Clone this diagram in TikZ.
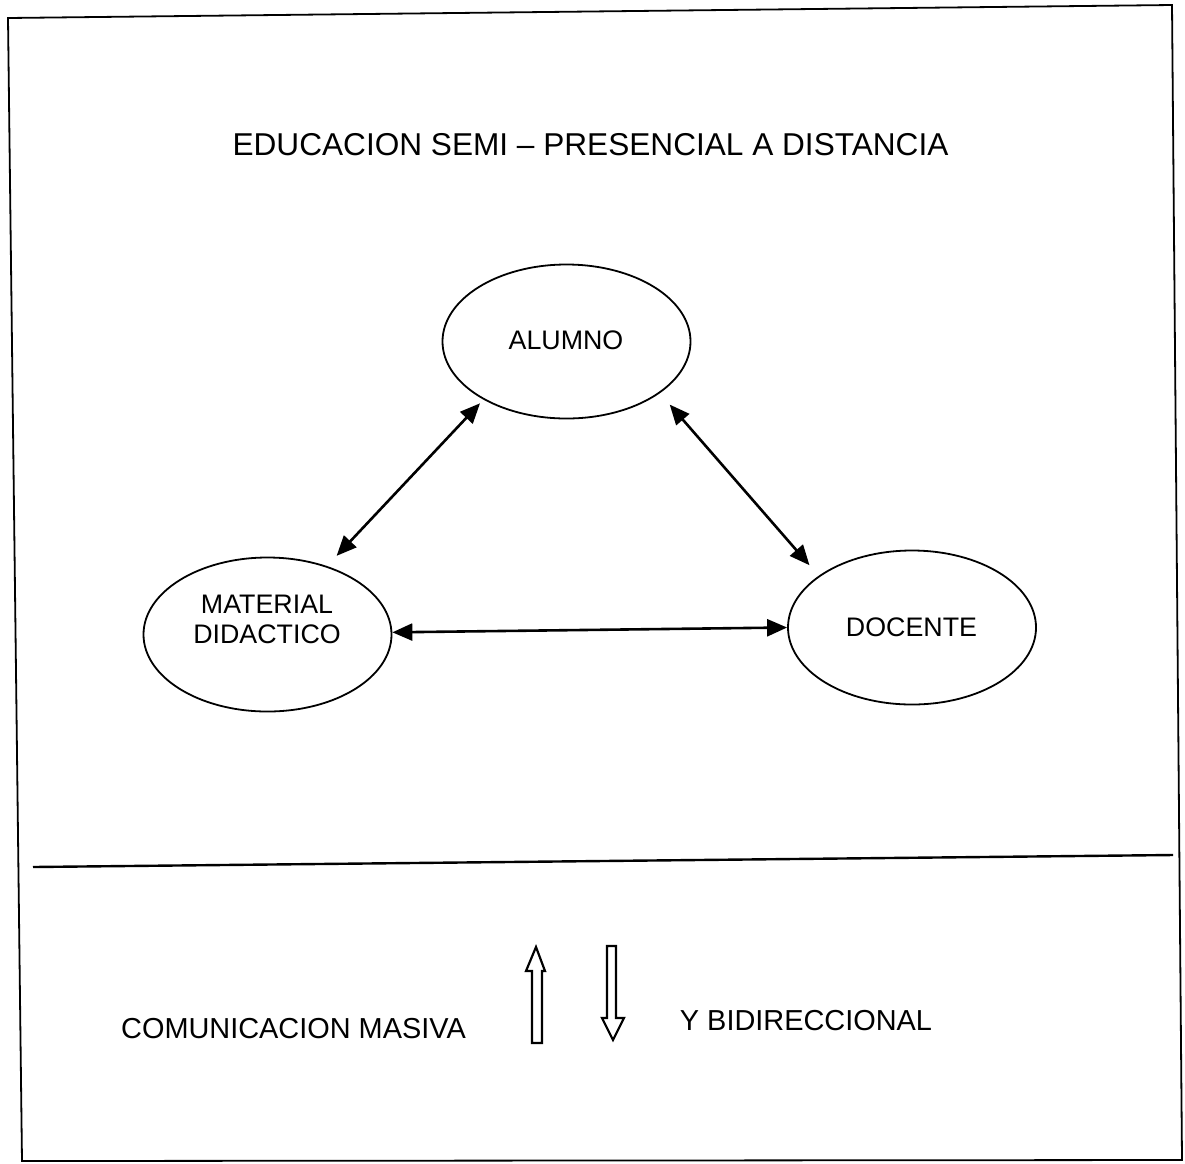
\documentclass[tikz,border=0pt]{standalone}
\usepackage{fontspec}
\setmainfont{Liberation Sans}
\usetikzlibrary{shapes.geometric,arrows.meta}
\begin{document}
\begin{tikzpicture}[x=1pt,y=-1pt,
  frame/.style={draw=black,line width=1.8pt,line join=miter},
  rule/.style={draw=black,line width=2.4pt},
  ell/.style={ellipse,draw=black,line width=1.8pt,minimum width=248pt,minimum height=154pt,inner sep=0pt},
  lbl/.style={inner sep=0pt,font=\fontsize{26.8}{30}\selectfont,align=center},
  title/.style={inner sep=0pt,font=\fontsize{31.6}{36}\selectfont},
  bottomtxt/.style={inner sep=0pt,font=\fontsize{28.9}{33}\selectfont},
  conn/.style={{Triangle[length=20pt,width=17pt]}-{Triangle[length=20pt,width=17pt]},line width=2.6pt},
  hollow/.style={draw=black,line width=2.2pt,fill=white,line join=miter}]
\useasboundingbox (0,0) rectangle (1185,1163);
% frame and separator
\draw[frame] (8,18) -- (1172,5) -- (1182,1160) -- (22,1161) -- cycle;
\draw[rule] (33,867) -- (1173,855);
% title
\node[title] (titulo) at (590.5,145) {EDUCACION SEMI -- PRESENCIAL A DISTANCIA};
% ellipses
\node[ell] (alumno) at (566.5,341.5) {};
\node[lbl] (alumnotxt) at (566,340.5) {ALUMNO};
\node[ell] (material) at (267.5,634.5) {};
\node[lbl] (materialtxt) at (267,619) {MATERIAL\\DIDACTICO};
\node[ell] (docente) at (912,627.5) {};
\node[lbl] (docentetxt) at (911.5,627.5) {DOCENTE};
% connectors
\draw[conn,shorten <=5pt,shorten >=14pt] (alumno.215.4) -- (material.49.7);
\draw[conn,shorten <=15pt,shorten >=14pt] (alumno.331) -- (docente.151.3);
\draw[conn] (material.1.2) -- (docente.180);
% bottom texts
\node[bottomtxt] (masiva) at (293.5,1029) {COMUNICACION MASIVA};
\node[bottomtxt] (bidir) at (806,1021) {Y BIDIRECCIONAL};
% hollow arrows
\draw[hollow] (536,947) -- (545,971) -- (542,971) -- (542,1043) -- (532,1043) -- (532,971) -- (526,971) -- cycle;
\draw[hollow] (607,946) -- (616,946) -- (616,1018) -- (624,1018) -- (613,1040) -- (602,1018) -- (607,1018) -- cycle;
\end{tikzpicture}
\end{document}
